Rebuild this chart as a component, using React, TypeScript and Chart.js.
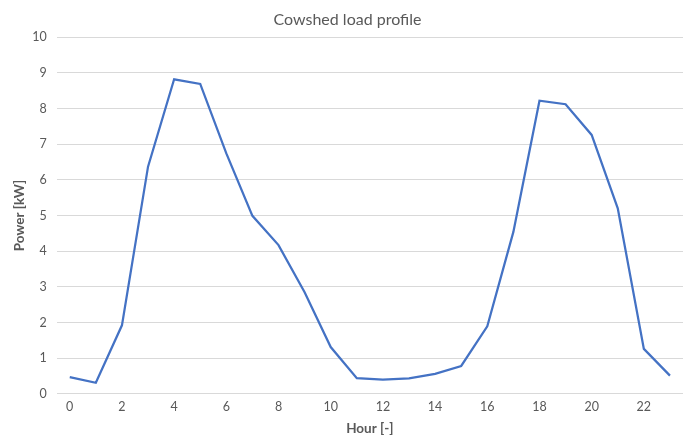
import React, { useEffect, useRef } from "react";
import { Chart, registerables } from "chart.js";

Chart.register(...registerables);

const hours: string[] = Array.from({ length: 24 }, (_, i) => String(i));
const power: number[] = [
  0.47, 0.31, 1.92, 6.37, 8.82, 8.69, 6.74, 4.99, 4.17, 2.85, 1.31, 0.44,
  0.4, 0.43, 0.56, 0.78, 1.89, 4.54, 8.22, 8.12, 7.26, 5.2, 1.26, 0.51,
];
const titleText = "Cowshed load profile";
const xTitle = "Hour [-]";
const yTitle = "Power [kW]";

const FONT = "Lato, 'Open Sans', sans-serif";
const GREY = "#595959";

export default function App() {
  const ref = useRef<HTMLCanvasElement | null>(null);
  useEffect(() => {
    if (!ref.current) return;
    const chart = new Chart(ref.current, {
      type: "line",
      data: {
        labels: hours,
        datasets: [
          {
            data: power,
            borderColor: "#4472C4",
            borderWidth: 2.25,
            pointRadius: 0,
            tension: 0,
            fill: false,
          },
        ],
      },
      options: {
        animation: false,
        responsive: false,
        maintainAspectRatio: false,
        layout: { padding: { left: 12, right: 4, top: 10, bottom: 0 } },
        plugins: {
          legend: { display: false },
          tooltip: { enabled: false },
          title: {
            display: true,
            text: titleText,
            color: GREY,
            font: { family: FONT, size: 16, weight: "normal" },
            padding: { top: 0, bottom: 8 },
          },
        },
        scales: {
          x: {
            offset: true,
            grid: { display: false, drawTicks: false },
            border: { display: false },
            ticks: {
              color: GREY,
              font: { family: FONT, size: 12.5 },
              autoSkip: false,
              maxRotation: 0,
              padding: 6,
              callback: (_v: any, i: number) => (i % 2 === 0 ? hours[i] : ""),
            },
            title: {
              display: true,
              text: xTitle,
              color: GREY,
              font: { family: FONT, size: 13.5, weight: "bold" },
              padding: { top: 0, bottom: 0 },
            },
          },
          y: {
            min: 0,
            max: 10,
            grid: { color: "#d9d9d9", lineWidth: 1, drawTicks: false },
            border: { display: false },
            ticks: {
              stepSize: 1,
              color: GREY,
              font: { family: FONT, size: 12.5 },
              padding: 10,
            },
            title: {
              display: true,
              text: yTitle,
              color: GREY,
              font: { family: FONT, size: 13.5, weight: "bold" },
              padding: { top: 0, bottom: -6 },
            },
          },
        },
      },
    });
    return () => chart.destroy();
  }, []);
  return (
    <div style={{ position: "fixed", left: 0, top: 0, width: 687, height: 437, background: "#fff" }}>
      <canvas ref={ref} width={687} height={437} />
    </div>
  );
}
